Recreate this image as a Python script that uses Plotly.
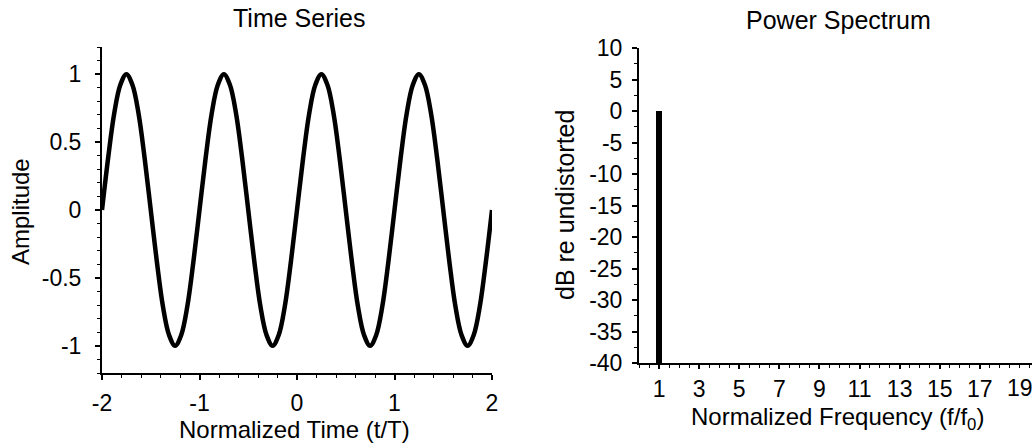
import plotly.graph_objects as go
from plotly.subplots import make_subplots

# ---- data ----
time_t = [
    -2.0, -1.9375, -1.875, -1.8125, -1.75, -1.6875, -1.625, -1.5625,
    -1.5, -1.4375, -1.375, -1.3125, -1.25, -1.1875, -1.125, -1.0625,
    -1.0, -0.9375, -0.875, -0.8125, -0.75, -0.6875, -0.625, -0.5625,
    -0.5, -0.4375, -0.375, -0.3125, -0.25, -0.1875, -0.125, -0.0625,
    0.0, 0.0625, 0.125, 0.1875, 0.25, 0.3125, 0.375, 0.4375,
    0.5, 0.5625, 0.625, 0.6875, 0.75, 0.8125, 0.875, 0.9375,
    1.0, 1.0625, 1.125, 1.1875, 1.25, 1.3125, 1.375, 1.4375,
    1.5, 1.5625, 1.625, 1.6875, 1.75, 1.8125, 1.875, 1.9375,
    2.0,
]
amplitude = [
    0.0, 0.38, 0.71, 0.92, 1.0, 0.92, 0.71, 0.38,
    0.0, -0.38, -0.71, -0.92, -1.0, -0.92, -0.71, -0.38,
    0.0, 0.38, 0.71, 0.92, 1.0, 0.92, 0.71, 0.38,
    0.0, -0.38, -0.71, -0.92, -1.0, -0.92, -0.71, -0.38,
    0.0, 0.38, 0.71, 0.92, 1.0, 0.92, 0.71, 0.38,
    0.0, -0.38, -0.71, -0.92, -1.0, -0.92, -0.71, -0.38,
    0.0, 0.38, 0.71, 0.92, 1.0, 0.92, 0.71, 0.38,
    0.0, -0.38, -0.71, -0.92, -1.0, -0.92, -0.71, -0.38,
    0.0,
]
spec_freq = [1]
spec_db = [0]
spec_floor = -40

left_yticks = [-1, -0.5, 0, 0.5, 1]
left_yticktext = ["-1", "-0.5", "0", "0.5", "1"]
left_xticks = [-2, -1, 0, 1, 2]
left_xticktext = ["-2", "-1", "0", "1", "2"]
right_xticks = [1, 3, 5, 7, 9, 11, 13, 15, 17]
right_xlast = 19
right_yticks = [10, 5, 0, -5, -10, -15, -20, -25, -30, -35, -40]
right_yticktext = ["10", "5", "0", "-5", "-10", "-15", "-20", "-25", "-30", "-35", "-40"]

FONT = "Liberation Sans, Arial, sans-serif"
W, H = 1032, 443
TICK = 23

fig = make_subplots(rows=1, cols=2)

fig.add_trace(go.Scatter(
    x=time_t, y=amplitude, mode="lines",
    line=dict(color="black", width=4.5, shape="spline", smoothing=1.0),
    showlegend=False, hoverinfo="skip"), row=1, col=1)

fig.add_trace(go.Bar(
    x=spec_freq, y=[v - spec_floor for v in spec_db], base=spec_floor,
    width=0.27, marker=dict(color="black", line=dict(width=0)),
    showlegend=False, hoverinfo="skip"), row=1, col=2)

axis_common = dict(
    showgrid=False, zeroline=False, showline=True, linecolor="black",
    linewidth=2, ticks="outside", tickcolor="black", tickwidth=1.5,
    automargin=False,
    tickfont=dict(family=FONT, size=TICK, color="black"),
)

fig.update_xaxes(
    domain=[102 / W, 492 / W], range=[-2, 2],
    tickvals=left_xticks, ticktext=left_xticktext, ticklen=5,
    minor=dict(dtick=0.2, ticks="outside", ticklen=3, tickcolor="black", tickwidth=1),
    ticklabelstandoff=3, **axis_common, row=1, col=1)
fig.update_yaxes(
    domain=[1 - 373 / H, 1 - 47 / H], range=[-1.2, 1.2],
    tickvals=left_yticks, ticktext=left_yticktext, ticklen=5,
    minor=dict(dtick=0.1, ticks="outside", ticklen=3, tickcolor="black", tickwidth=1),
    ticklabelstandoff=9, **axis_common, row=1, col=1)

fig.update_xaxes(
    domain=[639 / W, 1.0], range=[0, 19.6], tickvals=right_xticks,
    ticklen=4,
    minor=dict(dtick=0.5, ticks="outside", ticklen=3, tickcolor="black", tickwidth=1),
    ticklabelstandoff=0, **axis_common, row=1, col=2)
fig.update_yaxes(
    domain=[1 - 363 / H, 1 - 48 / H], range=[-40, 10],
    tickvals=right_yticks, ticktext=right_yticktext, ticklen=5,
    minor=dict(dtick=2.5, ticks="outside", ticklen=3, tickcolor="black", tickwidth=1),
    ticklabelstandoff=5, **axis_common, row=1, col=2)

# last frequency tick label sits at the very edge; draw it on the x2 axis scale
fig.add_annotation(
    text=str(right_xlast), x=right_xlast, xref="x2", y=1 - 388 / H, yref="paper",
    showarrow=False, xanchor="center", yanchor="middle",
    font=dict(family=FONT, size=TICK, color="black"))

def label(text, x, y, size=24, angle=0):
    fig.add_annotation(
        text=text, x=x / W, y=1 - y / H, xref="paper", yref="paper",
        showarrow=False, textangle=angle, xanchor="center", yanchor="middle",
        font=dict(family=FONT, size=size, color="black"))

label("Time Series", 299, 18, size=25)
label("Power Spectrum", 838, 20, size=25)
label("Normalized Time (t/T)", 294, 429, size=24)
label("Normalized Frequency (f/f<sub>0</sub>)", 837, 418, size=24)
label("Amplitude", 20, 212, size=24, angle=-90)
label("dB re undistorted", 565, 205, size=25, angle=-90)

fig.update_layout(
    width=W, height=H, margin=dict(l=0, r=0, t=0, b=0),
    paper_bgcolor="white", plot_bgcolor="white", bargap=0,
    font=dict(family=FONT, color="black"),
)

fig.write_html("out.html")
